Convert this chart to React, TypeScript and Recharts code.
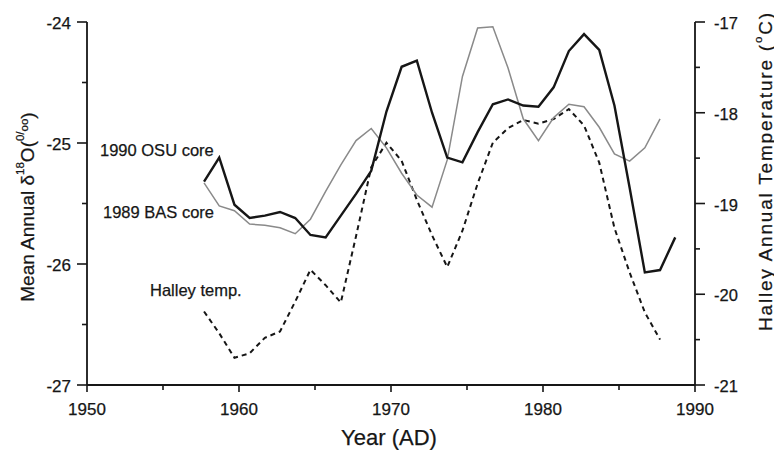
import React from "react";
import { LineChart, Line, XAxis, YAxis } from "recharts";

// Fractional years of the annual points
const years = [
  1957.7, 1958.7, 1959.7, 1960.7, 1961.7, 1962.7, 1963.7, 1964.7, 1965.7, 1966.7,
  1967.7, 1968.7, 1969.7, 1970.7, 1971.7, 1972.7, 1973.7, 1974.7, 1975.7, 1976.7,
  1977.7, 1978.7, 1979.7, 1980.7, 1981.7, 1982.7, 1983.7, 1984.7, 1985.7, 1986.7,
  1987.7, 1988.7,
];

// 1990 OSU core, mean annual d18O (per mil)
const osuCore = [
  -25.32, -25.12, -25.51, -25.62, -25.6, -25.57, -25.62, -25.76, -25.78, -25.6,
  -25.42, -25.23, -24.74, -24.37, -24.32, -24.75, -25.12, -25.16, -24.91, -24.68,
  -24.64, -24.69, -24.7, -24.54, -24.24, -24.1, -24.23, -24.69, -25.37, -26.07,
  -26.05, -25.78,
];

// 1989 BAS core, mean annual d18O (per mil)
const basCore = [
  -25.33, -25.52, -25.56, -25.67, -25.68, -25.7, -25.75, -25.63, -25.4, -25.18,
  -24.98, -24.88, -25.04, -25.25, -25.43, -25.53, -25.14, -24.45, -24.05, -24.04,
  -24.38, -24.8, -24.98, -24.79, -24.68, -24.7, -24.87, -25.09, -25.15, -25.04,
  -24.8,
];

// Halley annual temperature (deg C)
const halleyTemp = [
  -20.19, -20.43, -20.7, -20.65, -20.48, -20.41, -20.08, -19.73, -19.9, -20.09,
  -19.36, -18.6, -18.33, -18.53, -18.96, -19.35, -19.7, -19.3, -18.78, -18.33,
  -18.17, -18.08, -18.12, -18.07, -17.96, -18.14, -18.55, -19.27, -19.76, -20.2,
  -20.5,
];

const yearMajor = [1950, 1960, 1970, 1980, 1990];
const yearTicks = [1950, 1955, 1960, 1965, 1970, 1975, 1980, 1985, 1990];
const leftMajor = [-27, -26, -25, -24];
const leftTicks = [-27, -26.5, -26, -25.5, -25, -24.5, -24];
const rightMajor = [-21, -20, -19, -18, -17];
const rightTicks = [-21, -20.5, -20, -19.5, -19, -18.5, -18, -17.5, -17];

const rows = years.map((year, i) => ({
  year,
  osu: osuCore[i],
  bas: basCore[i],
  halley: halleyTemp[i],
}));

const FONT = "'Liberation Sans', Arial, Helvetica, sans-serif";
const INK = "#161616";

const XTick = (props: any) => {
  const { x, y, payload } = props;
  const major = yearMajor.includes(payload.value);
  return (
    <g>
      <line x1={x} x2={x} y1={y} y2={y + (major ? 7 : 5)} stroke={INK} strokeWidth={1.6} />
      {major && (
        <text x={x} y={y + 24} textAnchor="middle" dominantBaseline="central" fontSize={17} fontFamily={FONT} fill={INK} stroke={INK} strokeWidth={0.25}>
          {payload.value}
        </text>
      )}
    </g>
  );
};

const LeftTick = (props: any) => {
  const { x, y, payload } = props;
  const major = leftMajor.includes(payload.value);
  return (
    <g>
      <line x1={x} x2={x - (major ? 10 : 5)} y1={y} y2={y} stroke={INK} strokeWidth={1.6} />
      {major && (
        <text x={x - 16} y={y + 1} textAnchor="end" dominantBaseline="central" fontSize={17} fontFamily={FONT} fill={INK} stroke={INK} strokeWidth={0.25}>
          {payload.value}
        </text>
      )}
    </g>
  );
};

const RightTick = (props: any) => {
  const { x, y, payload } = props;
  const major = rightMajor.includes(payload.value);
  return (
    <g>
      <line x1={x} x2={x + (major ? 10 : 5)} y1={y} y2={y} stroke={INK} strokeWidth={1.6} />
      {major && (
        <text x={x + 19} y={y + 1} textAnchor="start" dominantBaseline="central" fontSize={16.5} fontFamily={FONT} fill={INK} stroke={INK} strokeWidth={0.25}>
          {payload.value}
        </text>
      )}
    </g>
  );
};

export default function App() {
  return (
    <div style={{ position: "absolute", left: 0, top: 0, width: 774, height: 450, background: "#fff" }}>
      <LineChart
        width={774}
        height={450}
        data={rows}
        margin={{ top: 22, right: 29, bottom: 20, left: 0 }}
      >
        <XAxis
          dataKey="year"
          type="number"
          domain={[1950, 1990]}
          ticks={yearTicks}
          interval={0}
          height={45}
          tickSize={0}
          tickMargin={0}
          tickLine={false}
          tick={<XTick />}
          axisLine={{ stroke: INK, strokeWidth: 1.8 }}
        />
        <XAxis
          xAxisId="top"
          orientation="top"
          type="number"
          domain={[1950, 1990]}
          ticks={[]}
          tick={false}
          tickLine={false}
          height={0}
          axisLine={{ stroke: INK, strokeWidth: 1.8 }}
        />
        <YAxis
          yAxisId="left"
          type="number"
          domain={[-27, -24]}
          ticks={leftTicks}
          interval={0}
          width={87}
          tickSize={0}
          tickMargin={0}
          tickLine={false}
          tick={<LeftTick />}
          axisLine={{ stroke: INK, strokeWidth: 1.8 }}
        />
        <YAxis
          yAxisId="right"
          orientation="right"
          type="number"
          domain={[-21, -17]}
          ticks={rightTicks}
          interval={0}
          width={50}
          tickSize={0}
          tickMargin={0}
          tickLine={false}
          tick={<RightTick />}
          axisLine={{ stroke: INK, strokeWidth: 1.8 }}
        />
        <Line
          yAxisId="right"
          dataKey="halley"
          type="linear"
          stroke={INK}
          strokeWidth={2}
          strokeDasharray="5 4"
          dot={false}
          isAnimationActive={false}
        />
        <Line
          yAxisId="left"
          dataKey="bas"
          type="linear"
          stroke="#8a8a8a"
          strokeWidth={1.5}
          dot={false}
          isAnimationActive={false}
        />
        <Line
          yAxisId="left"
          dataKey="osu"
          type="linear"
          stroke={INK}
          strokeWidth={2.4}
          dot={false}
          isAnimationActive={false}
        />
      </LineChart>
      <svg
        width={774}
        height={450}
        style={{ position: "absolute", left: 0, top: 0, pointerEvents: "none" }}
        fontFamily={FONT}
        fill={INK}
        stroke={INK}
        strokeWidth={0.25}
      >
        <text x={100} y={150} dominantBaseline="central" fontSize={16.5}>1990 OSU core</text>
        <text x={103} y={212} dominantBaseline="central" fontSize={16.5}>1989 BAS core</text>
        <text x={150} y={290} dominantBaseline="central" fontSize={16.5}>Halley temp.</text>
        <text x={389} y={437} textAnchor="middle" dominantBaseline="central" fontSize={22}>Year (AD)</text>
        <text transform="translate(27,207) rotate(-90)" textAnchor="middle" dominantBaseline="central" fontSize={19}>
          Mean Annual δ<tspan dy={-7} fontSize={11.5}>18</tspan>
          <tspan dy={7}>O(</tspan>
          <tspan dy={-7} fontSize={11.5}>0</tspan>
          <tspan fontSize={11.5}>/</tspan>
          <tspan dy={4} fontSize={11.5}>oo</tspan>
          <tspan dy={3}>)</tspan>
        </text>
        <text transform="translate(765,172) rotate(-90)" textAnchor="middle" dominantBaseline="central" fontSize={19} textLength={318} lengthAdjust="spacing">
          Halley Annual Temperature (<tspan dy={-7} fontSize={11.5}>o</tspan>
          <tspan dy={7}>C)</tspan>
        </text>
      </svg>
    </div>
  );
}
